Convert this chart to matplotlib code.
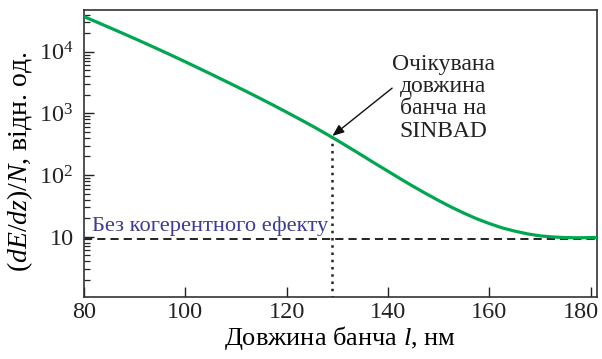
import numpy as np
import matplotlib.pyplot as plt
from matplotlib.transforms import ScaledTranslation

plt.rcParams['font.family'] = ['Liberation Serif', 'DejaVu Serif']
plt.rcParams['mathtext.fontset'] = 'custom'
plt.rcParams['mathtext.rm'] = 'Liberation Serif'
plt.rcParams['mathtext.it'] = 'Liberation Serif:italic'

# bunch length (nm) and energy loss per particle (arb. units)
bunch_len = [80, 82.5, 85, 87.5, 90, 92.5, 95, 97.5, 100, 102.5, 105, 107.5,
             110, 112.5, 115, 117.5, 120, 122.5, 125, 127.5, 130, 132.5, 135,
             137.5, 140, 142.5, 145, 147.5, 150, 152.5, 155, 157.5, 160, 162.5,
             165, 167.5, 170, 172.5, 175, 177.5, 180, 181.2]
energy_loss = [37150, 30370, 24770, 20160, 16370, 13240, 10680, 8580, 6870, 5480,
               4365, 3467, 2748, 2173, 1710, 1340, 1045, 811, 627, 480, 364, 274,
               205, 153, 115, 86.1, 65.2, 49.8, 38.5, 30.1, 24.0, 19.5, 16.3, 13.9,
               12.3, 11.1, 10.3, 9.89, 9.66, 9.59, 9.66, 9.70]

incoherent_level = 9.0   # "no coherent effect" level
sinbad_len = 129         # expected bunch length at SINBAD
sinbad_val = 430

yticks = [10, 100, 1000, 10000]
yticklabels = ['10', r'$10^2$', r'$10^3$', r'$10^4$']
xticks = [80, 100, 120, 140, 160, 180]

fig = plt.figure(figsize=(6.02, 3.59), dpi=100)
ax = fig.add_axes([0.1395, 0.1727, 0.852, 0.7993])

ax.plot(bunch_len, energy_loss, color='#00a650', lw=2.3, zorder=3)
ax.axhline(incoherent_level, color='#222222', lw=1.4, ls=(0, (4.2, 2.6)), zorder=2)
ax.vlines(sinbad_len, 1, sinbad_val, color='#222222', lw=1.8, ls=(0, (1.0, 1.9)), zorder=2)

ax.text(81.6, 10.4, 'Без когерентного ефекту', color='#3d3d96', fontsize=16.2,
        ha='left', va='bottom')

# annotation text and arrow
ax.text(150.9, 1800, 'Очікувана\nдовжина\nбанча на\nSINBAD', ha='center', va='center',
        fontsize=17, linespacing=1.08, color='#222222')
ax.annotate('', xy=(sinbad_len, sinbad_val), xytext=(140.8, 2570),
            arrowprops=dict(arrowstyle='-|>,head_length=0.7,head_width=0.28',
                            color='#111111', lw=1.0, shrinkA=0, shrinkB=0))

ax.set_yscale('log')
ax.set_xlim(80, 181.2)
ax.set_ylim(1.05, 4.75e4)
ax.set_xticks(xticks)
ax.set_yticks(yticks)
ax.set_yticklabels(yticklabels)

ax.tick_params(which='both', direction='in', top=False, right=False,
               labelsize=17.5, colors='#222222')
ax.tick_params(which='major', length=7, width=1)
ax.tick_params(which='minor', length=4, width=0.9)
ax.tick_params(axis='y', pad=7.5)
for s in ax.spines.values():
    s.set_color('#333333')
    s.set_linewidth(1.2)

# last x label is pulled left so it stays inside the figure
last = ax.get_xticklabels()[-1]
last.set_transform(last.get_transform() + ScaledTranslation(-10 / 100, 0, fig.dpi_scale_trans))

ax.set_xlabel(r'Довжина банча $l$, нм', fontsize=19, labelpad=1)
ax.set_ylabel(r'$(dE/dz)/N$, відн. од.', fontsize=20)
ax.yaxis.set_label_coords(-0.095, 0.47)

fig.savefig('out.png', dpi=100)
